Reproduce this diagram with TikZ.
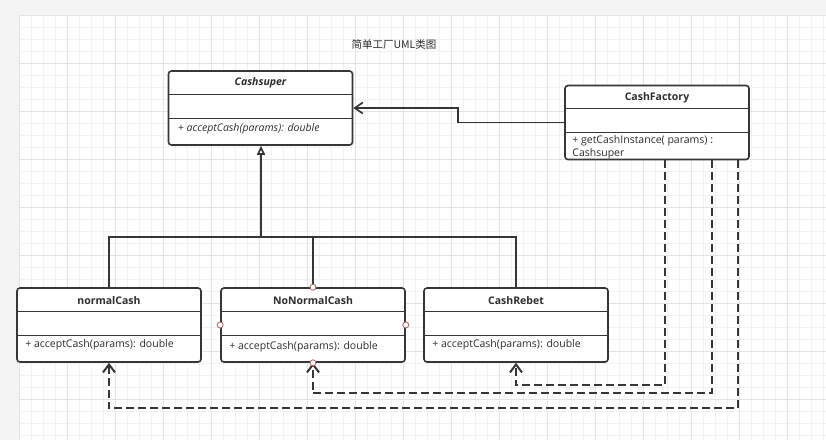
\documentclass[tikz,border=0pt]{standalone}
\usepackage{fontspec}
\setmainfont{Open Sans}
\newfontfamily\cjk{Noto Sans CJK SC}
\usetikzlibrary{arrows.meta}
\definecolor{linegray}{HTML}{363636}
\definecolor{textgray}{HTML}{2E2E2E}
\definecolor{minorgray}{HTML}{F2F2F2}
\definecolor{majorgray}{HTML}{E4E4E4}
\definecolor{portred}{HTML}{B0605E}

\begin{document}
\begin{tikzpicture}[x=1pt, y=-1pt,
        classbox/.style={draw=linegray, line width=1.6pt, rounded corners=3pt,
      fill=white, minimum width=184pt, minimum height=74pt, inner sep=0pt},
        sepline/.style={linegray, line width=1pt},
        classname/.style={font=\bfseries\fontsize{10.5}{12}\selectfont, text=textgray},
        member/.style={font=\fontsize{10.5}{13}\selectfont, text=textgray,
      anchor=north west, inner sep=0pt, align=left},
        solidline/.style={linegray, line width=1.7pt},
        inherit/.style={solidline, -{Triangle[open, length=9pt, width=8pt]}},
        assoc/.style={solidline, -{Straight Barb[length=8pt, width=11pt]}},
        depend/.style={solidline, line width=2pt, dash pattern=on 8pt off 4pt,
      -{Straight Barb[length=8pt, width=12pt]}},
        port/.style={circle, draw=portred, fill=white, inner sep=0pt,
      minimum size=6pt, line width=0.8pt}]

        % paper
        \useasboundingbox (0,0) rectangle (826,440);
        \fill[gray!9] (0,0) rectangle (826,440);
        \fill[white] (19,15) rectangle (826,440);
        \foreach \x in {19,31,...,826} \draw[minorgray, line width=0.6pt] (\x,15) -- (\x,440);
        \foreach \y in {15,27,...,440} \draw[minorgray, line width=0.6pt] (19,\y) -- (826,\y);
        \foreach \x in {19,67,...,826} \draw[majorgray, line width=0.7pt] (\x,15) -- (\x,440);
        \foreach \y in {15,63,...,440} \draw[majorgray, line width=0.7pt] (19,\y) -- (826,\y);

        \node [font=\cjk\fontsize{10.5}{12}\selectfont, text=textgray] (heading) at (394,44) {简单工厂UML类图};

        % classes
        \node [classbox] (super)     at (260.5,108)  {};
        \node [classbox] (factory)   at (657,122.5)  {};
        \node [classbox] (normal)    at (109,325)    {};
        \node [classbox] (nonnormal) at (313,325)    {};
        \node [classbox] (rebet)     at (516,325)    {};

        \foreach \c in {super,factory,normal,nonnormal,rebet} {
          \draw [sepline] (\c.north west) ++(0,24) -- ++(184,0);
          \draw [sepline] (\c.north west) ++(0,48) -- ++(184,0);
        }

        \node [classname, font=\bfseries\itshape\fontsize{10.5}{12}\selectfont] (super-name)
          at ([yshift=-13pt]super.north) {Cashsuper};
        \node [classname] (factory-name)   at ([yshift=-13pt]factory.north)   {CashFactory};
        \node [classname] (normal-name)    at ([yshift=-13pt]normal.north)    {normalCash};
        \node [classname] (nonnormal-name) at ([yshift=-13pt]nonnormal.north) {NoNormalCash};
        \node [classname] (rebet-name)     at ([yshift=-13pt]rebet.north)     {CashRebet};

        \node [member, font=\itshape\fontsize{10.5}{13}\selectfont] (super-op)
          at ([xshift=10pt,yshift=-53pt]super.north west) {+ acceptCash(params): double};
        \node [member] (factory-op)   at ([xshift=8pt,yshift=-51pt]factory.north west)
          {+ getCashInstance( params) :\\Cashsuper};
        \node [member] (normal-op)    at ([xshift=9pt,yshift=-52pt]normal.north west)
          {+ acceptCash(params): double};
        \node [member] (nonnormal-op) at ([xshift=9pt,yshift=-54pt]nonnormal.north west)
          {+ acceptCash(params): double};
        \node [member] (rebet-op)     at ([xshift=9pt,yshift=-52pt]rebet.north west)
          {+ acceptCash(params): double};

        % generalization
        \coordinate (fork) at (261,237);
        \draw [solidline] (normal.north) |- (fork);
        \draw [solidline] (nonnormal.north) |- (fork);
        \draw [solidline] (rebet.north) |- (fork);
        \draw [inherit] (fork) -- (fork |- super.south);

        % association
        \draw [assoc] (factory.west) -- ++(-106,0) |- (super.east);

        % dependencies
        \coordinate (dep1) at ([xshift=101pt]factory.south west);
        \coordinate (dep2) at ([xshift=148pt]factory.south west);
        \coordinate (dep3) at ([xshift=174pt]factory.south west);
        \draw [depend] (dep1) -- ++(0,225) -| (rebet.south);
        \draw [depend] (dep2) -- ++(0,233) -| (nonnormal.south);
        \draw [depend] (dep3) -- ++(0,248) -| (normal.south);

        % connection points
        \node [port] (port-n) at (nonnormal.north) {};
        \node [port] (port-w) at (nonnormal.west)  {};
        \node [port] (port-e) at (nonnormal.east)  {};
        \node [port] (port-s) at (nonnormal.south) {};
\end{tikzpicture}
\end{document}
